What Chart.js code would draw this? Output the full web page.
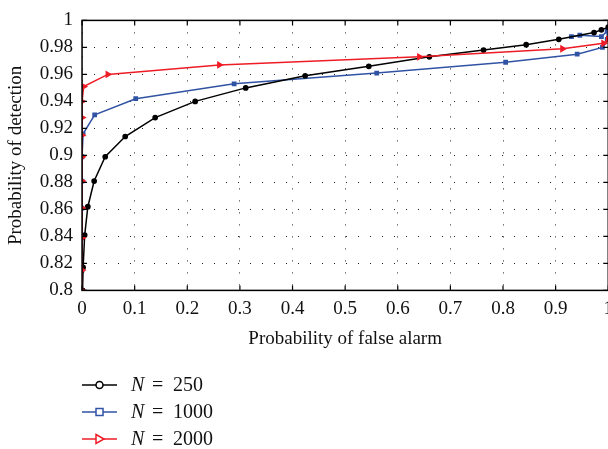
<!DOCTYPE html>
<html>
<head>
<meta charset="utf-8">
<script src="https://cdn.jsdelivr.net/npm/chart.js@4.4.1/dist/chart.umd.min.js"></script>
<style>
  html, body { margin: 0; padding: 0; background: #fff; overflow: hidden; }
  #wrap { width: 608px; height: 449px; overflow: hidden; position: relative; }
  canvas { display: block; }
</style>
</head>
<body>
<div id="wrap"><canvas id="roc" width="620" height="449"></canvas></div>
<script>
// series
const seriesNames = ["250", "1000", "2000"];

const fa250 = [0.001, 0.002, 0.005, 0.011, 0.023, 0.044, 0.082, 0.139, 0.215, 0.311, 0.424, 0.545, 0.660, 0.763, 0.844, 0.906, 0.973, 0.987, 1.0];
const pd250 = [0.800, 0.817, 0.841, 0.862, 0.881, 0.899, 0.914, 0.928, 0.940, 0.950, 0.959, 0.966, 0.973, 0.978, 0.982, 0.986, 0.991, 0.993, 0.995];

const fa1000 = [0, 0, 0, 0, 0, 0, 0.002, 0.024, 0.102, 0.289, 0.560, 0.805, 0.941, 0.989, 0.998, 0.998, 0.987, 0.946, 0.930];
const pd1000 = [0.800, 0.815, 0.839, 0.861, 0.881, 0.899, 0.916, 0.930, 0.942, 0.953, 0.961, 0.969, 0.975, 0.980, 0.986, 0.992, 0.988, 0.989, 0.988];

const fa2000 = [0, 0, 0, 0, 0, 0, 0, 0, 0, 0.003, 0.049, 0.261, 0.641, 0.913, 0.991, 1.0];
const pd2000 = [0.800, 0.815, 0.839, 0.861, 0.881, 0.899, 0.915, 0.928, 0.940, 0.951, 0.960, 0.967, 0.973, 0.979, 0.983, 0.986];

const xTicks = [0, 0.1, 0.2, 0.3, 0.4, 0.5, 0.6, 0.7, 0.8, 0.9, 1];
const xTickLabels = ["0", "0.1", "0.2", "0.3", "0.4", "0.5", "0.6", "0.7", "0.8", "0.9", "1"];
const yTicks = [0.8, 0.82, 0.84, 0.86, 0.88, 0.9, 0.92, 0.94, 0.96, 0.98, 1];
const yTickLabels = ["0.8", "0.82", "0.84", "0.86", "0.88", "0.9", "0.92", "0.94", "0.96", "0.98", "1"];

const FONT = "'Liberation Serif', 'DejaVu Serif', serif";

function pts(xs, ys) {
  return xs.map((x, i) => ({ x: x, y: ys[i] }));
}

// box round the plot with inward ticks
const framePlugin = {
  id: "frame",
  afterDatasetsDraw(chart) {
    const { ctx, chartArea: a, scales } = chart;
    ctx.save();
    ctx.strokeStyle = "#000";
    ctx.lineWidth = 1.5;
    ctx.strokeRect(a.left, a.top, a.right - a.left, a.bottom - a.top);
    ctx.lineWidth = 1.2;
    ctx.beginPath();
    for (const v of xTicks) {
      const px = scales.x.getPixelForValue(v);
      ctx.moveTo(px, a.bottom); ctx.lineTo(px, a.bottom - 5);
      ctx.moveTo(px, a.top); ctx.lineTo(px, a.top + 5);
    }
    for (const v of yTicks) {
      const py = scales.y.getPixelForValue(v);
      ctx.moveTo(a.left, py); ctx.lineTo(a.left + 5, py);
      ctx.moveTo(a.right, py); ctx.lineTo(a.right - 5, py);
    }
    ctx.stroke();
    ctx.restore();
  },
};

// legend under the plot: line with a hollow marker, then "N = ..."
const legendPlugin = {
  id: "roclegend",
  afterDraw(chart) {
    const ctx = chart.ctx;
    const x0 = 82, x1 = 117, xm = 99.5;
    const rows = [385, 412, 439];
    chart.data.datasets.forEach((ds, i) => {
      const y = rows[i];
      ctx.save();
      ctx.strokeStyle = ds.borderColor;
      ctx.lineWidth = 1.5;
      ctx.beginPath();
      ctx.moveTo(x0, y); ctx.lineTo(x1, y);
      ctx.stroke();
      ctx.fillStyle = "#fff";
      ctx.beginPath();
      if (ds.pointStyle === "circle") {
        ctx.arc(xm, y, 3.5, 0, Math.PI * 2);
      } else if (ds.pointStyle === "rect") {
        ctx.rect(xm - 3.5, y - 3.5, 7, 7);
      } else {
        ctx.moveTo(xm - 3.5, y - 4.5);
        ctx.lineTo(xm + 4.5, y);
        ctx.lineTo(xm - 3.5, y + 4.5);
        ctx.closePath();
      }
      ctx.fill();
      ctx.stroke();
      ctx.fillStyle = "#111";
      ctx.textBaseline = "alphabetic";
      ctx.font = "italic 20px " + FONT;
      ctx.fillText("N", 131, y + 6);
      ctx.font = "20px " + FONT;
      ctx.fillText("=", 152, y + 6);
      ctx.fillText(seriesNames[i], 173, y + 6);
      ctx.restore();
    });
  },
};

const gridOpts = { color: "#222", lineWidth: 1, drawTicks: false };

new Chart(document.getElementById("roc").getContext("2d"), {
  type: "line",
  data: {
    datasets: [
      {
        label: "N = " + seriesNames[0],
        data: pts(fa250, pd250),
        borderColor: "#000",
        backgroundColor: "#000",
        pointBackgroundColor: "#000",
        pointStyle: "circle",
        pointRadius: 2.1,
        borderWidth: 1.5,
        order: 2,
      },
      {
        label: "N = " + seriesNames[1],
        data: pts(fa1000, pd1000),
        borderColor: "#3153a4",
        backgroundColor: "#3153a4",
        pointBackgroundColor: "#3153a4",
        pointStyle: "rect",
        pointRadius: 2.3,
        borderWidth: 1.5,
        order: 3,
      },
      {
        label: "N = " + seriesNames[2],
        data: pts(fa2000, pd2000),
        borderColor: "#ee1c25",
        backgroundColor: "#ee1c25",
        pointBackgroundColor: "#ee1c25",
        pointStyle: "triangle",
        pointRotation: 90,
        pointRadius: 3,
        borderWidth: 1.5,
        order: 1,
      },
    ],
  },
  options: {
    responsive: false,
    animation: false,
    events: [],
    layout: { padding: { left: 5, top: 13, right: 5, bottom: 99 } },
    plugins: { legend: { display: false }, tooltip: { enabled: false } },
    elements: { line: { tension: 0 } },
    scales: {
      x: {
        type: "linear",
        min: 0,
        max: 1,
        afterBuildTicks: (axis) => { axis.ticks = xTicks.map((v) => ({ value: v })); },
        ticks: {
          padding: 7,
          autoSkip: false,
          color: "#111",
          font: { family: FONT, size: 19 },
          maxRotation: 0,
          callback: (v, i) => xTickLabels[i],
        },
        grid: gridOpts,
        border: { display: false, dash: [1, 11] },
        title: {
          display: true,
          text: "Probability of false alarm",
          color: "#111",
          font: { family: FONT, size: 19 },
          padding: { top: 0, bottom: 0 },
        },
      },
      y: {
        type: "linear",
        min: 0.8,
        max: 1,
        afterBuildTicks: (axis) => { axis.ticks = yTicks.map((v) => ({ value: v })); },
        ticks: {
          padding: 9,
          autoSkip: false,
          color: "#111",
          font: { family: FONT, size: 19 },
          callback: (v, i) => yTickLabels[i],
        },
        grid: gridOpts,
        border: { display: false, dash: [1, 11] },
        title: {
          display: true,
          text: "Probability of detection",
          color: "#111",
          font: { family: FONT, size: 19 },
          padding: { top: 0, bottom: 3 },
        },
      },
    },
  },
  plugins: [framePlugin, legendPlugin],
});
</script>
</body>
</html>
